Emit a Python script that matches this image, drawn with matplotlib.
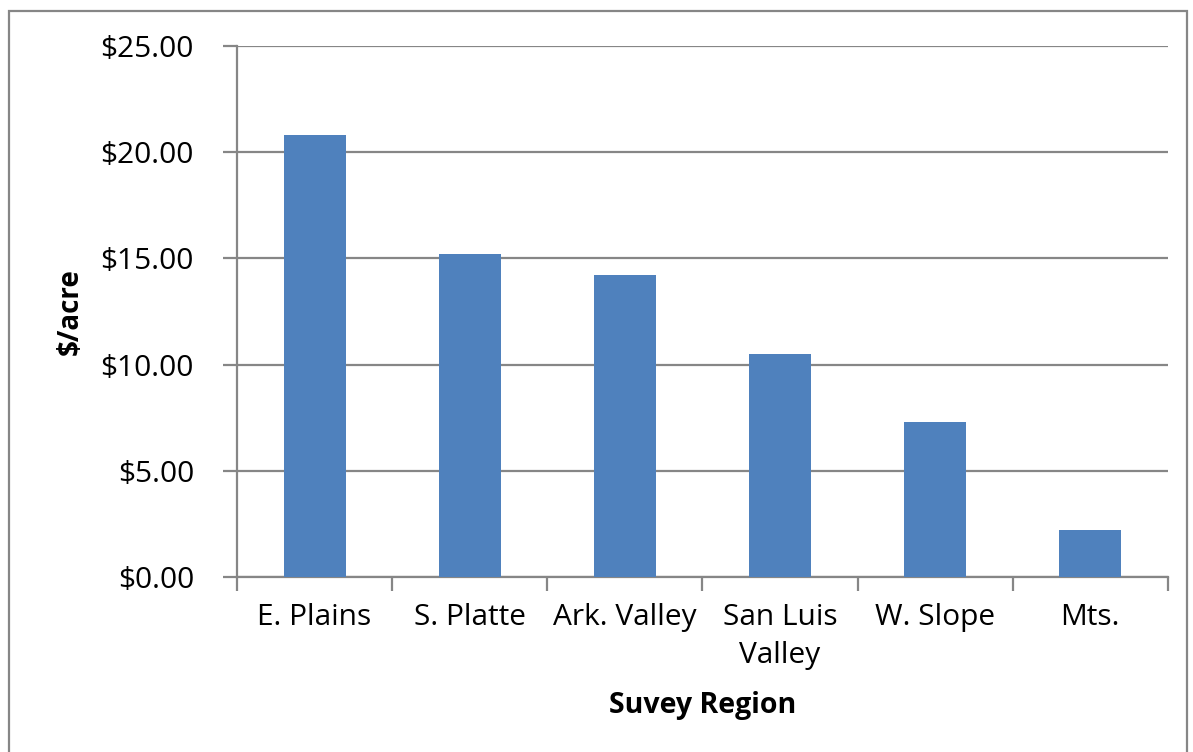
import matplotlib
matplotlib.use('Agg')
import matplotlib.pyplot as plt
import numpy as np
from matplotlib.patches import Rectangle

# data
regions = ['E. Plains', 'S. Platte', 'Ark. Valley', 'San Luis\nValley', 'W. Slope', 'Mts.']
cost_per_acre = [20.80, 15.20, 14.20, 10.50, 7.30, 2.20]
y_ticks = [0, 5, 10, 15, 20, 25]

plt.rcParams['font.family'] = ['Open Sans', 'DejaVu Sans']
grid_col = '#868686'
bar_col = '#4f81bd'

fig = plt.figure(figsize=(11.93, 7.52), dpi=100)
ax = fig.add_axes([0.1987, 0.2327, 0.7803, 0.7061])

x = np.arange(len(regions))
ax.bar(x, cost_per_acre, width=0.4, color=bar_col, zorder=3)

ax.set_xlim(-0.5, len(regions) - 0.5)
ax.set_ylim(0, 25)
ax.set_yticks(y_ticks)
ax.set_yticklabels(['${:.2f}'.format(v) for v in y_ticks], fontsize=21.5)
ax.yaxis.grid(True, color=grid_col, linewidth=1.6, zorder=0)

# category labels centred, tick marks on the boundaries
ax.set_xticks(x)
ax.set_xticklabels(regions, fontsize=21.5, linespacing=1.4, va='top')
ax.tick_params(axis='x', length=0, pad=19)
ax.set_xticks(np.arange(len(regions) + 1) - 0.5, minor=True)
ax.tick_params(axis='x', which='minor', length=10, width=1.6, color=grid_col)
ax.tick_params(axis='y', length=10, width=1.6, color=grid_col, pad=21)

for s in ['top', 'right']:
    ax.spines[s].set_visible(False)
for s in ['left', 'bottom']:
    ax.spines[s].set_color(grid_col)
    ax.spines[s].set_linewidth(1.6)

ax.set_ylabel('$/acre', fontsize=20, fontweight='bold')
ax.yaxis.set_label_coords(-0.164, 0.5)
ax.set_xlabel('Suvey Region', fontsize=20.5, fontweight='bold')
ax.xaxis.set_label_coords(0.5, -0.215)

# chart border
fig.patches.append(Rectangle((9 / 1193, -0.05), 1178 / 1193, 1 - 11 / 752 + 0.05,
                             transform=fig.transFigure, fill=False,
                             edgecolor=grid_col, linewidth=1.6))

fig.savefig('out.png', dpi=100)
